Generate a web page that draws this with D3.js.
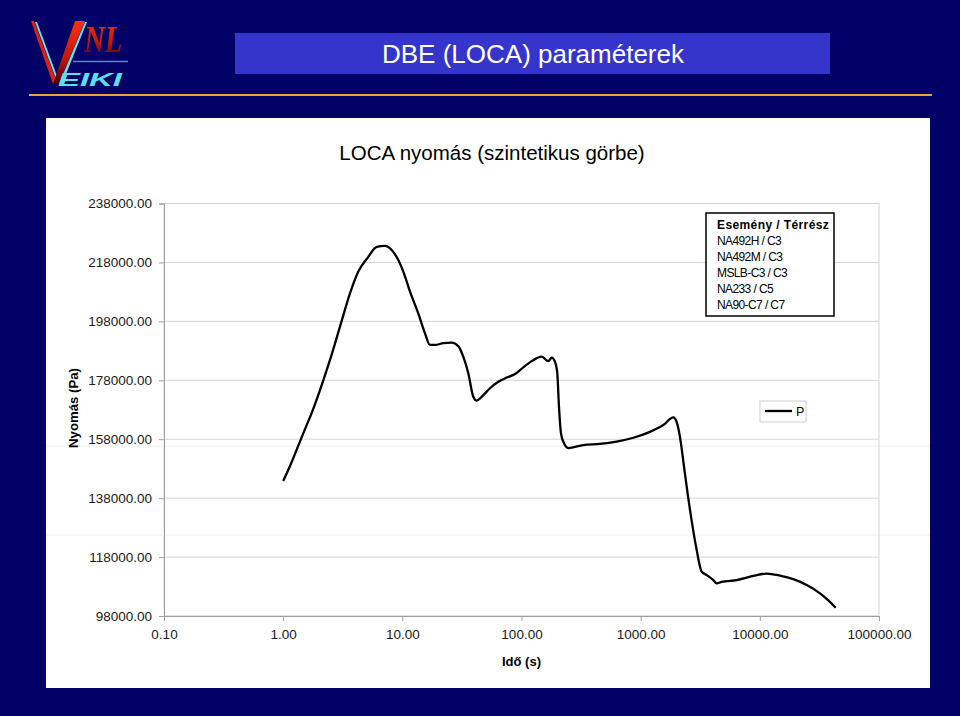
<!DOCTYPE html>
<html><head><meta charset="utf-8">
<script src="https://cdn.jsdelivr.net/npm/d3@7/dist/d3.min.js"></script>
<style>
html,body{margin:0;padding:0;background:#000066;}
svg{display:block;font-family:"Liberation Sans",Arial,sans-serif;}
</style></head>
<body>
<svg id="c" width="960" height="716"></svg>
<script>
// ---- data ----
const slideTitle = "DBE (LOCA) paraméterek";
const chartTitle = "LOCA nyomás (szintetikus görbe)";
const xAxisTitle = "Idő (s)";
const yAxisTitle = "Nyomás (Pa)";
const xTicks = [0.1, 1, 10, 100, 1000, 10000, 100000];
const yTicks = [98000, 118000, 138000, 158000, 178000, 198000, 218000, 238000];
const seriesName = "P";
const legendLines = ["Esemény / Térrész", "NA492H / C3", "NA492M / C3", "MSLB-C3 / C3", "NA233 / C5", "NA90-C7 / C7"];
const time = [1.0, 1.141, 1.475, 1.746, 2.037, 2.472, 2.999, 3.637, 4.271, 5.181, 6.094, 7.154, 8.14, 9.25,
  10.19, 11.6, 13.61, 15.5, 17.07, 18.8, 22.07, 25.96, 29.48, 32.47, 35.77, 39.4, 42.07, 46.3, 54.4, 63.9,
  75.1, 88.2, 103.5, 121.8, 147.7, 167.9, 179.2, 191, 199.7, 206.3, 214.5, 227.3, 247, 330, 455.6, 629,
  867, 1197, 1548, 1878, 1998, 2158, 2310, 2594, 2952, 3252, 3582, 4069, 4344, 4785, 6394, 8811, 11420,
  14760, 19090, 24740, 31980, 37330, 43290];
const pressure = [143800, 148900, 160000, 167200, 174700, 184900, 196200, 207500, 214900, 219900, 223300, 223600, 222200, 218800,
  214900, 208100, 200700, 193900, 190000, 190000, 190600, 190800, 189600, 186000, 180400, 172400, 171100, 172400, 175300, 177500,
  178900, 180100, 182400, 184500, 186000, 184500, 185700, 184300, 180400, 169000, 160000, 156600, 155000, 156000, 156400, 157200,
  158500, 160500, 162800, 165400, 164000, 157700, 148700, 134000, 120400, 113000, 111900, 110200, 109100, 109600, 110200, 111600, 112400,
  111700, 110500, 108500, 105700, 103400, 100800];

const svg = d3.select("#c");
const W = 960, H = 716;

// background
svg.append("rect").attr("width", W).attr("height", H).attr("fill", "#000066");

// ---- logo ----
const logo = svg.append("g");
const defs = svg.append("defs");
const gr = defs.append("linearGradient").attr("id", "vg").attr("x1", 0).attr("y1", 0).attr("x2", 0).attr("y2", 1);
gr.append("stop").attr("offset", "0%").attr("stop-color", "#ff3010");
gr.append("stop").attr("offset", "60%").attr("stop-color", "#c01808");
gr.append("stop").attr("offset", "100%").attr("stop-color", "#400000");
// left arm
logo.append("path").attr("d", "M31,21 L34,21 L56,80 L53,84 Z").attr("fill", "#e02010");
logo.append("path").attr("d", "M35,22 L37,22 L57,76 L56,79 Z").attr("fill", "#60e0f0");
// right arm
logo.append("path").attr("d", "M53,84 L75,21 L85,21 L59,84 Z").attr("fill", "url(#vg)");
logo.append("path").attr("d", "M59,84 L85,22 L87,22 L62,84 Z").attr("fill", "#60e0f0");
// NL
logo.append("text").attr("x", 84).attr("y", 52).attr("font-family", "Liberation Serif, serif")
  .attr("font-style", "italic").attr("font-weight", "bold").attr("font-size", 38)
  .attr("fill", "url(#vg)").attr("textLength", 38).attr("lengthAdjust", "spacingAndGlyphs").text("NL");
logo.append("line").attr("x1", 73).attr("x2", 128).attr("y1", 61.5).attr("y2", 61.5)
  .attr("stroke", "#6080d0").attr("stroke-width", 1.5);
logo.append("text").attr("x", 58).attr("y", 86).attr("font-style", "italic").attr("font-weight", "bold")
  .attr("font-size", 19).attr("fill", "#5ce0f0").attr("textLength", 64).attr("lengthAdjust", "spacingAndGlyphs").text("EIKI");

// title box
svg.append("rect").attr("x", 235).attr("y", 33).attr("width", 595).attr("height", 41).attr("fill", "#3535cc");
svg.append("text").attr("x", 533).attr("y", 63).attr("text-anchor", "middle").attr("fill", "#ffffff")
  .attr("font-size", 26).text(slideTitle);
// orange rule
svg.append("line").attr("x1", 29).attr("x2", 932).attr("y1", 95).attr("y2", 95)
  .attr("stroke", "#e0a838").attr("stroke-width", 2);

// white panel
svg.append("rect").attr("x", 46).attr("y", 118).attr("width", 884).attr("height", 570).attr("fill", "#ffffff");
// faint artifact lines
[446, 535].forEach(yy => svg.append("line").attr("x1", 46).attr("x2", 930).attr("y1", yy).attr("y2", yy)
  .attr("stroke", "#f0f0f0").attr("stroke-width", 1));

// ---- chart ----
const x = d3.scaleLog().domain([0.1, 100000]).range([164, 879]);
const y = d3.scaleLinear().domain([98000, 238000]).range([616, 203.5]);
const fmt = d3.format(".2f");

// gridlines
svg.append("g").selectAll("line").data(yTicks).join("line")
  .attr("x1", 164).attr("x2", 879).attr("y1", d => y(d)).attr("y2", d => y(d))
  .attr("stroke", "#d6d6d6").attr("stroke-width", 1);
// plot border right/top
svg.append("rect").attr("x", 164).attr("y", 203.5).attr("width", 715).attr("height", 412.5)
  .attr("fill", "none").attr("stroke", "#d6d6d6");

const yAxis = svg.append("g").attr("transform", "translate(164,0)")
  .call(d3.axisLeft(y).tickValues(yTicks).tickFormat(fmt).tickSize(5).tickPadding(7));
const xAxis = svg.append("g").attr("transform", "translate(0,616)")
  .call(d3.axisBottom(x).tickValues(xTicks).tickFormat(fmt).tickSize(5).tickPadding(8));
[yAxis, xAxis].forEach(a => {
  a.select(".domain").attr("stroke", "#a0a0a0");
  a.selectAll(".tick line").attr("stroke", "#a0a0a0");
  a.selectAll(".tick text").attr("fill", "#1a1a1a").attr("font-size", 13.5)
    .attr("font-family", "Liberation Sans, Arial, sans-serif");
});

// series line
const pts = time.map((t, i) => [t, pressure[i]]);
svg.append("path").datum(pts)
  .attr("d", d3.line().x(d => x(d[0])).y(d => y(d[1])).curve(d3.curveMonotoneX))
  .attr("fill", "none").attr("stroke", "#000").attr("stroke-width", 2.3).attr("stroke-linejoin", "round");

// titles
svg.append("text").attr("x", 492).attr("y", 160).attr("text-anchor", "middle").attr("font-size", 20.5)
  .attr("fill", "#000").text(chartTitle);
svg.append("text").attr("x", 521.5).attr("y", 666).attr("text-anchor", "middle").attr("font-size", 13)
  .attr("font-weight", "bold").attr("fill", "#000").text(xAxisTitle);
svg.append("text").attr("transform", "translate(78,408) rotate(-90)").attr("text-anchor", "middle")
  .attr("font-size", 13.2).attr("font-weight", "bold").attr("fill", "#000").text(yAxisTitle);

// legend text box
svg.append("rect").attr("x", 706).attr("y", 213).attr("width", 128).attr("height", 103)
  .attr("fill", "#fff").attr("stroke", "#000").attr("stroke-width", 1.5);
svg.append("g").selectAll("text").data(legendLines).join("text")
  .attr("x", 717).attr("y", (d, i) => 228.5 + i * 16)
  .attr("font-size", 12).attr("fill", "#000")
  .attr("font-weight", (d, i) => i === 0 ? "bold" : "normal")
  .attr("letter-spacing", (d, i) => i === 0 ? 0.4 : -0.6)
  .text(d => d);

// series legend
svg.append("rect").attr("x", 760).attr("y", 401).attr("width", 46).attr("height", 21)
  .attr("fill", "#fff").attr("stroke", "#cfcfcf");
svg.append("line").attr("x1", 765).attr("x2", 792).attr("y1", 411).attr("y2", 411)
  .attr("stroke", "#000").attr("stroke-width", 2.3);
svg.append("text").attr("x", 796).attr("y", 416).attr("font-size", 12.5).attr("fill", "#000").text(seriesName);
</script>
</body></html>
